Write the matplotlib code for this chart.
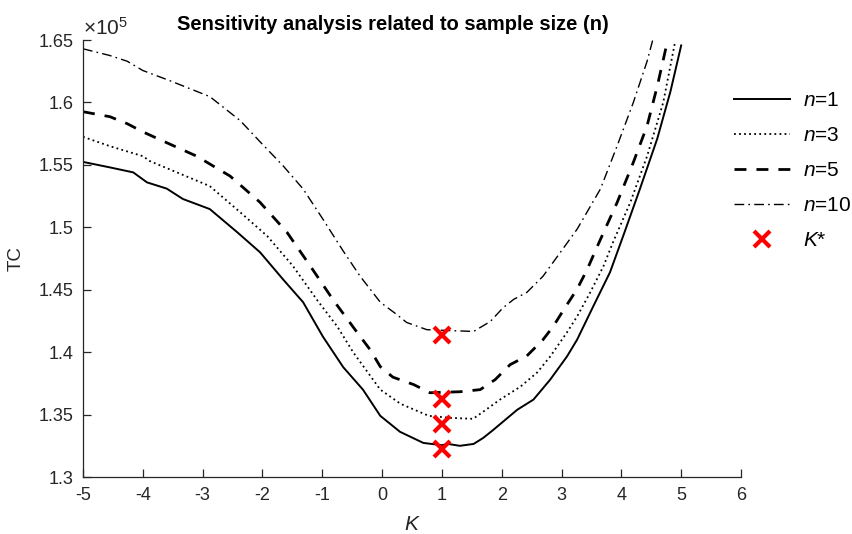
import matplotlib
matplotlib.use('Agg')
import matplotlib.pyplot as plt
from matplotlib.ticker import FuncFormatter

plt.rcParams['font.family'] = ['Liberation Sans', 'DejaVu Sans']
plt.rcParams['mathtext.fontset'] = 'custom'
plt.rcParams['mathtext.rm'] = 'Liberation Sans'
plt.rcParams['mathtext.it'] = 'Liberation Sans:italic'
plt.rcParams['axes.unicode_minus'] = False

# values, TC in units of 1e5
k_n1 = [-5, -4.55, -4.16, -3.93, -3.6, -3.33, -2.88, -2.42, -2.04, -1.65, -1.32, -0.99,
        -0.65, -0.32, -0.03, 0.30, 0.69, 1.0, 1.1, 1.3, 1.53, 1.69, 1.86, 2.26, 2.53,
        2.81, 3.09, 3.26, 3.53, 3.81, 4.03, 4.31, 4.6, 4.82, 5.0]
tc_n1 = [1.5524, 1.548, 1.544, 1.536, 1.531, 1.5227, 1.5146, 1.496, 1.480, 1.458, 1.440,
         1.4125, 1.388, 1.370, 1.349, 1.3362, 1.3273, 1.3255, 1.3265, 1.325, 1.3265, 1.3313,
         1.3378, 1.3539, 1.362, 1.378, 1.3965, 1.410, 1.4367, 1.464, 1.493, 1.5307, 1.571,
         1.6087, 1.6457]

k_n3 = [-5, -4.55, -4.0, -3.88, -2.88, -2.37, -1.92, -1.49, -1.09, -0.75, -0.48, -0.03,
        0.31, 0.78, 1.14, 1.52, 1.69, 1.97, 2.31, 2.59, 2.81, 3.09, 3.26, 3.48, 3.70,
        3.86, 4.15, 4.43, 4.7, 4.9]
tc_n3 = [1.5725, 1.565, 1.557, 1.553, 1.533, 1.512, 1.493, 1.469, 1.442, 1.4206, 1.3997,
         1.370, 1.3586, 1.349, 1.3474, 1.3466, 1.3523, 1.362, 1.3723, 1.3836, 1.3965,
         1.4158, 1.4286, 1.4479, 1.4688, 1.488, 1.520, 1.557, 1.600, 1.649]

k_n5 = [-5, -4.55, -4.26, -4.0, -3.75, -3.1, -2.54, -2.04, -1.59, -1.2, -0.82, -0.42,
        -0.2, -0.03, 0.18, 0.53, 0.8, 1.3, 1.64, 1.89, 2.14, 2.42, 2.69, 2.86, 3.06,
        3.26, 3.43, 3.6, 3.93, 4.2, 4.43, 4.6, 4.77]
tc_n5 = [1.5926, 1.5886, 1.583, 1.5765, 1.571, 1.557, 1.541, 1.520, 1.496, 1.469, 1.442,
         1.416, 1.402, 1.3884, 1.380, 1.374, 1.3675, 1.3683, 1.370, 1.378, 1.390, 1.397,
         1.410, 1.4206, 1.4358, 1.4505, 1.4664, 1.485, 1.520, 1.552, 1.5813, 1.613, 1.649]

k_n10 = [-5, -4.55, -4.26, -4.0, -3.55, -2.88, -2.37, -2.04, -1.65, -1.32, -0.99, -0.65,
         -0.37, -0.03, 0.25, 0.41, 0.75, 1.53, 1.81, 2.02, 2.2, 2.42, 2.69, 2.86, 3.26,
         3.65, 3.93, 4.2, 4.43, 4.53]
tc_n10 = [1.643, 1.6376, 1.633, 1.6256, 1.6175, 1.6047, 1.5854, 1.5685, 1.549, 1.5307,
          1.5066, 1.481, 1.461, 1.440, 1.430, 1.4238, 1.418, 1.4166, 1.4246, 1.4355, 1.4423,
          1.4479, 1.4608, 1.472, 1.4985, 1.5307, 1.5653, 1.600, 1.633, 1.651]

k_star = [1, 1, 1, 1]
tc_star = [1.3225, 1.3425, 1.3625, 1.4135]

x_ticks = list(range(-5, 7))
y_ticks = [1.3, 1.35, 1.4, 1.45, 1.5, 1.55, 1.6, 1.65]

scale = 1e5
grey = '#262626'

fig = plt.figure(figsize=(8.53, 5.34), dpi=100)
ax = fig.add_axes([0.0973, 0.1067, 0.7714, 0.8183])

ax.plot(k_n1, [v * scale for v in tc_n1], color='black', lw=1.4, label='$n$=1')
ax.plot(k_n3, [v * scale for v in tc_n3], color='black', lw=1.3,
        linestyle=(0, (1, 1.8)), label='$n$=3')
ax.plot(k_n5, [v * scale for v in tc_n5], color='black', lw=2.0,
        linestyle=(0, (4.3, 3.6)), label='$n$=5')
ax.plot(k_n10, [v * scale for v in tc_n10], color='black', lw=1.0,
        linestyle=(0, (7, 3, 1.2, 3)), label='$n$=10')
ax.plot(k_star, [v * scale for v in tc_star], linestyle='none', marker='x',
        color='#ff0000', markersize=11, markeredgewidth=3, label='$K$*')

ax.set_xlim(-5, 6)
ax.set_ylim(1.3 * scale, 1.65 * scale)
ax.set_xticks(x_ticks)
ax.set_yticks([v * scale for v in y_ticks])
ax.xaxis.set_major_formatter(FuncFormatter(lambda v, p: '%g' % v))
ax.yaxis.set_major_formatter(FuncFormatter(lambda v, p: '%g' % (v / scale)))

for s in ['top', 'right']:
    ax.spines[s].set_visible(False)
for s in ['left', 'bottom']:
    ax.spines[s].set_color(grey)
    ax.spines[s].set_linewidth(0.9)
ax.tick_params(direction='in', length=6, width=0.9, colors=grey, labelsize=13, pad=7)

ax.text(0.0, 1.003, r'$\times 10^5$', transform=ax.transAxes, fontsize=15,
        color=grey, ha='left', va='bottom')

ax.set_xlabel('$K$', fontsize=15, color=grey, labelpad=8)
ax.set_ylabel('TC', fontsize=13.5, color=grey, labelpad=10)
fig.text(0.46, 0.955, 'Sensitivity analysis related to sample size (n)',
         fontsize=14.5, fontweight='bold', ha='center', va='center')

ax.legend(loc='upper left', bbox_to_anchor=(0.848, 0.849), bbox_transform=fig.transFigure,
          frameon=False, fontsize=15, handlelength=2.7, labelspacing=0.77,
          handletextpad=0.6, borderpad=0)

fig.savefig('out.png', dpi=100)
